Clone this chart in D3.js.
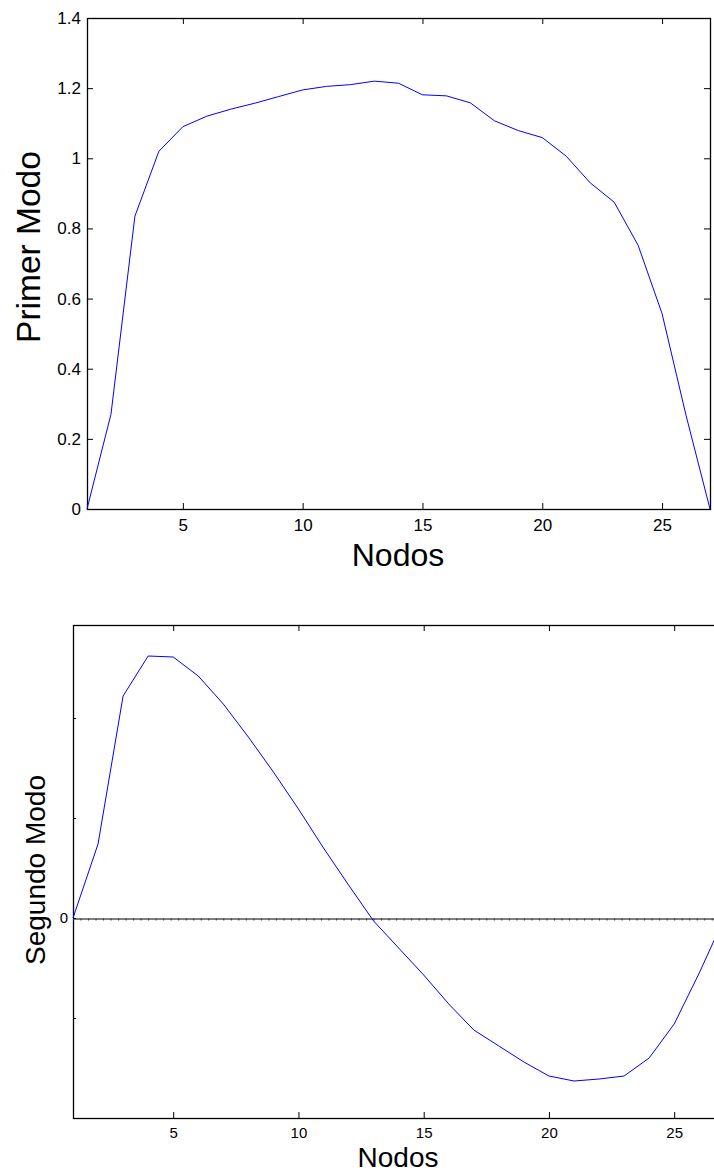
<!DOCTYPE html>
<html>
<head>
<meta charset="utf-8">
<script src="https://cdn.jsdelivr.net/npm/d3@7"></script>
<style>
  body { margin: 0; background: #fff; }
  svg { display: block; }
  text { font-family: "Liberation Sans", Arial, Helvetica, sans-serif; fill: #000; }
</style>
</head>
<body>
<svg id="chart" width="714" height="1174"></svg>
<script>
// Node indices along the structure
const nodos = [1,2,3,4,5,6,7,8,9,10,11,12,13,14,15,16,17,18,19,20,21,22,23,24,25,26,27];

// First mode shape amplitudes
const primerModo = [0, 0.27, 0.835, 1.02, 1.09, 1.12, 1.14, 1.157, 1.176, 1.195, 1.205, 1.21, 1.22,
  1.214, 1.181, 1.178, 1.158, 1.107, 1.079, 1.059, 1.006, 0.93, 0.875, 0.752, 0.557, 0.267, 0];

// Second mode shape amplitudes
const segundoModo = [0, 0.074, 0.222, 0.262, 0.261, 0.242, 0.214, 0.181, 0.146, 0.109, 0.070, 0.033, -0.003,
  -0.030, -0.057, -0.086, -0.112, -0.128, -0.144, -0.158, -0.163, -0.161, -0.158, -0.140, -0.106, -0.055, 0];

// Tick values and labels
const xTicks = [5, 10, 15, 20, 25];
const yTicksTop = [0, 0.2, 0.4, 0.6, 0.8, 1, 1.2, 1.4];
const yLabelsTop = ["0", "0.2", "0.4", "0.6", "0.8", "1", "1.2", "1.4"];
const yTicksBottom = [-0.1, 0, 0.1, 0.2];
const yLabelsBottom = ["", "0", "", ""];

const svg = d3.select("#chart");

function styleAxis(g) {
  g.select(".domain").remove();
  g.selectAll(".tick line").attr("stroke", "#000").attr("stroke-width", 1);
  g.selectAll("text").attr("fill", "#000");
}

function frame(x0, y0, x1, y1) {
  svg.append("rect")
    .attr("x", x0 + 0.5).attr("y", y0 + 0.5)
    .attr("width", x1 - x0).attr("height", y1 - y0)
    .attr("fill", "none").attr("stroke", "#000").attr("stroke-width", 1.3);
}

// ---------- Top panel: Primer Modo ----------
{
  const L = 87, R = 710, T = 18, B = 509;
  const x = d3.scaleLinear().domain([1, 27]).range([L, R]);
  const y = d3.scaleLinear().domain([0, 1.4]).range([B, T]);

  svg.append("g").attr("transform", `translate(0,${B})`)
    .call(d3.axisBottom(x).tickValues(xTicks).tickSize(-6).tickPadding(10).tickFormat(d3.format("d")))
    .call(styleAxis).selectAll("text").attr("font-size", 17);
  svg.append("g").attr("transform", `translate(0,${T})`)
    .call(d3.axisTop(x).tickValues(xTicks).tickSize(-6).tickFormat(() => ""))
    .call(styleAxis);
  svg.append("g").attr("transform", `translate(${L},0)`)
    .call(d3.axisLeft(y).tickValues(yTicksTop).tickSize(-6).tickPadding(6)
      .tickFormat((d, i) => yLabelsTop[i]))
    .call(styleAxis).selectAll("text").attr("font-size", 17);
  svg.append("g").attr("transform", `translate(${R},0)`)
    .call(d3.axisRight(y).tickValues(yTicksTop).tickSize(-6).tickFormat(() => ""))
    .call(styleAxis);

  frame(L, T, R, B);

  svg.append("path")
    .datum(nodos.map((n, i) => [n, primerModo[i]]))
    .attr("fill", "none").attr("stroke", "#0000ff").attr("stroke-width", 1)
    .attr("d", d3.line().x(d => x(d[0])).y(d => y(d[1])));

  svg.append("text").attr("x", 398).attr("y", 566)
    .attr("text-anchor", "middle").attr("font-size", 32).text("Nodos");
  svg.append("text")
    .attr("transform", `translate(40,247) rotate(-90)`)
    .attr("text-anchor", "middle").attr("font-size", 33.5).text("Primer Modo");
}

// ---------- Bottom panel: Segundo Modo ----------
{
  const L = 73, T = 625, B = 1118;
  const R = L + 26 * 25.05;
  const x = d3.scaleLinear().domain([1, 27]).range([L, R]);
  const y = d3.scaleLinear().domain([-0.2, 0.293]).range([B, T]);

  svg.append("g").attr("transform", `translate(0,${B})`)
    .call(d3.axisBottom(x).tickValues(xTicks).tickSize(-6).tickPadding(9).tickFormat(d3.format("d")))
    .call(styleAxis).selectAll("text").attr("font-size", 15);
  svg.append("g").attr("transform", `translate(0,${T})`)
    .call(d3.axisTop(x).tickValues(xTicks).tickSize(-6).tickFormat(() => ""))
    .call(styleAxis);
  svg.append("g").attr("transform", `translate(${L},0)`)
    .call(d3.axisLeft(y).tickValues(yTicksBottom).tickSize(-3).tickPadding(5)
      .tickFormat((d, i) => yLabelsBottom[i]))
    .call(styleAxis).selectAll("text").attr("font-size", 15);

  frame(L, T, R, B);

  // zero reference line with small hatch marks beneath it
  const y0 = Math.round(y(0)) + 0.5;
  svg.append("g").attr("transform", `translate(0,${y0})`)
    .call(d3.axisBottom(x).tickValues(d3.range(1, 27.01, 0.3)).tickSize(2).tickFormat(() => ""))
    .call(g => g.selectAll(".tick line").attr("stroke", "#333").attr("stroke-width", 1))
    .call(g => g.select(".domain").attr("stroke", "#000").attr("stroke-width", 1));

  svg.append("path")
    .datum(nodos.map((n, i) => [n, segundoModo[i]]))
    .attr("fill", "none").attr("stroke", "#0000ff").attr("stroke-width", 1)
    .attr("d", d3.line().x(d => x(d[0])).y(d => y(d[1])));

  svg.append("text").attr("x", 398).attr("y", 1167)
    .attr("text-anchor", "middle").attr("font-size", 28).text("Nodos");
  svg.append("text")
    .attr("transform", `translate(45,870) rotate(-90)`)
    .attr("text-anchor", "middle").attr("font-size", 28).text("Segundo Modo");
}
</script>
</body>
</html>
